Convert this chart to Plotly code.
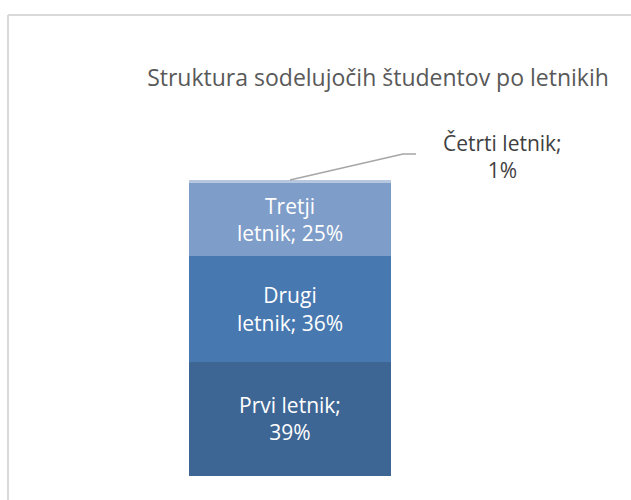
import plotly.graph_objects as go

categories = ["Prvi letnik", "Drugi letnik", "Tretji letnik", "Četrti letnik"]
values = [39, 36, 25, 1]
labels = ["Prvi letnik;<br>39%", "Drugi<br>letnik; 36%", "Tretji<br>letnik; 25%", ""]
small_label = "Četrti letnik;<br>1%"
colors = ["#3D6695", "#4878B0", "#7F9DC9", "#B7C7E0"]
title = "Struktura sodelujočih študentov po letnikih"

W, H = 631, 500
bar_left, bar_right = 189, 391
bar_bottom, bar_top = 476, 180
top_px = 100
px_per_unit_x = bar_right - bar_left
total = sum(values)
px_per_unit_y = (bar_bottom - bar_top) / total
cx = (bar_left + bar_right) / 2

xr = [-cx / px_per_unit_x, (W - cx) / px_per_unit_x]
yr = [0, (bar_bottom - top_px) / px_per_unit_y]

fig = go.Figure()
for c, v, lab, col in zip(categories, values, labels, colors):
    fig.add_trace(go.Bar(
        x=[0], y=[v], name=c, width=1,
        marker=dict(color=col, line=dict(width=0)),
        text=[lab], textposition="inside", insidetextanchor="middle",
        textangle=0,
        textfont=dict(color="white", size=21, family="Open Sans"),
        hoverinfo="skip",
    ))

def xd(px):
    return (px - cx) / px_per_unit_x

def yd(py):
    return (bar_bottom - py) / px_per_unit_y

# leader line for smallest segment
fig.add_shape(type="path",
              path=f"M 0 {total} L {xd(403)} {yd(154)} L {xd(416)} {yd(154)}",
              xref="x", yref="y", line=dict(color="#A6A6A6", width=1.5))
fig.add_annotation(x=xd(502), y=yd(156), xref="x", yref="y",
                   text=small_label, showarrow=False,
                   font=dict(color="#404040", size=21, family="Open Sans"),
                   align="center")

fig.update_layout(
    width=W, height=H,
    barmode="stack",
    showlegend=False,
    margin=dict(l=0, r=0, t=top_px, b=H - bar_bottom, pad=0),
    paper_bgcolor="white", plot_bgcolor="rgba(0,0,0,0)",
    xaxis=dict(range=xr, visible=False, fixedrange=True),
    yaxis=dict(range=yr, visible=False, fixedrange=True),
    title=dict(text=title, x=378 / W, xanchor="center", y=1 - 78 / H, yanchor="middle",
               font=dict(color="#595959", size=23, family="Open Sans")),
    uniformtext=dict(mode="show", minsize=10),
)

# chart border (light gray frame, top and left visible)
ph = bar_bottom - top_px
ytop = 1 + (top_px - 15) / ph
fig.add_shape(type="line", xref="paper", yref="paper",
              x0=8 / W, x1=1.05, y0=ytop, y1=ytop,
              line=dict(color="#D9D9D9", width=2))
fig.add_shape(type="line", xref="paper", yref="paper",
              x0=8 / W, x1=8 / W, y0=ytop, y1=-0.2,
              line=dict(color="#D9D9D9", width=2))

fig.write_html("out.html",
               config={"displayModeBar": False},
               post_script="document.body.style.margin='0';document.body.style.overflow='hidden';")
